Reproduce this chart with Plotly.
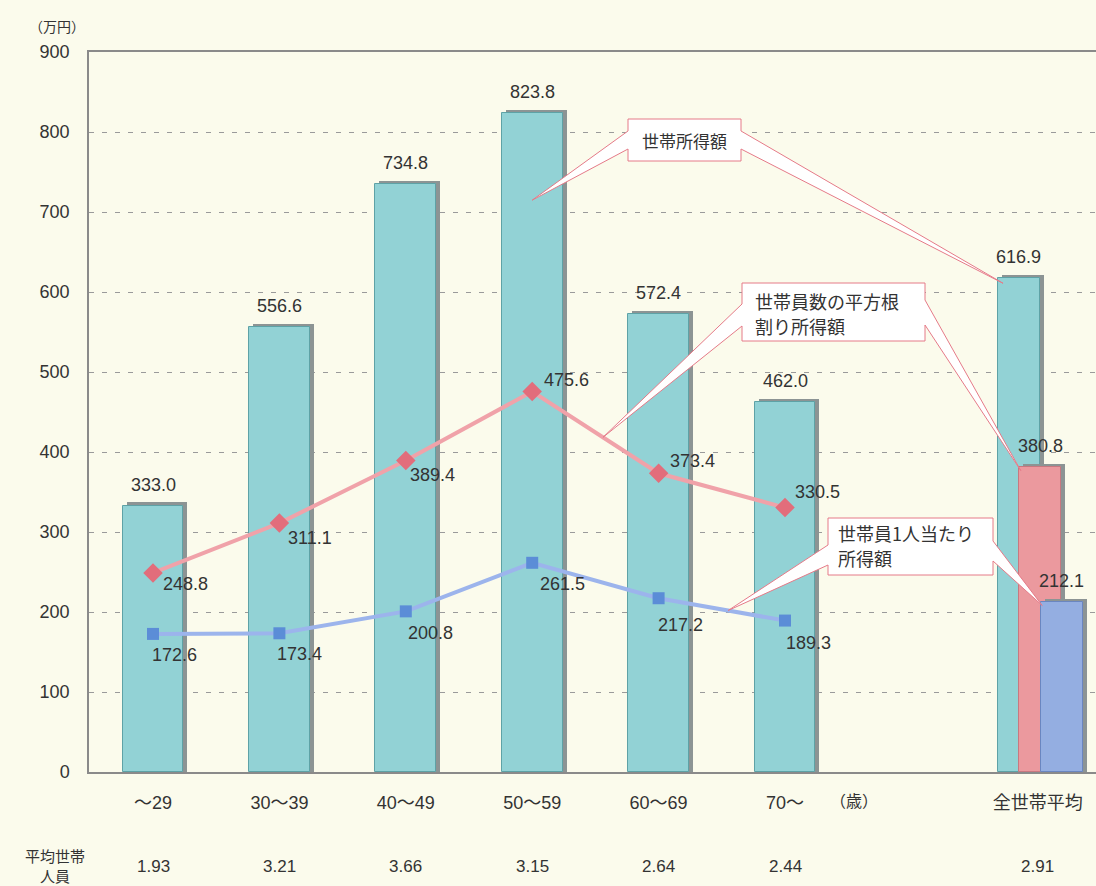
import plotly.graph_objects as go

# ---- data -------------------------------------------------------------
age_groups = ["〜29", "30〜39", "40〜49", "50〜59", "60〜69", "70〜"]
overall_label = "全世帯平均"

household_income = [333.0, 556.6, 734.8, 823.8, 572.4, 462.0]      # 世帯所得額
sqrt_adjusted_income = [248.8, 311.1, 389.4, 475.6, 373.4, 330.5]  # 世帯員数の平方根割り所得額
per_capita_income = [172.6, 173.4, 200.8, 261.5, 217.2, 189.3]     # 世帯員1人当たり所得額
household_size = [1.93, 3.21, 3.66, 3.15, 2.64, 2.44]              # 平均世帯人員

overall_income = 616.9
overall_sqrt_income = 380.8
overall_per_capita = 212.1
overall_size = 2.91

y_ticks = [0, 100, 200, 300, 400, 500, 600, 700, 800, 900]

# ---- layout constants -------------------------------------------------
W, H = 1096, 886
M_L, M_R, M_T, M_B = 89, 0, 52, 114
PLOT_W, PLOT_H = W - M_L - M_R, H - M_T - M_B
X0_PX, UNIT_PX = 153, 126.4            # pixel centre of first group, px per group
Y_MAX = 900
PX_PER_Y = PLOT_H / Y_MAX              # pixels per 万円

x_min = -(X0_PX - M_L) / UNIT_PX
x_max = (W - M_R - X0_PX) / UNIT_PX

group_x = list(range(len(age_groups)))
overall_x = 7.0
ov_teal_x, ov_pink_x, ov_blue_x = 6.85, 7.02, 7.19
bar_w = 0.48
ov_bar_w = 0.33

shadow_dx = 4 / UNIT_PX
shadow_dy = 4.0

BG = "#fbfbec"
TEAL = "#92d2d5"
TEAL_EDGE = "#5ea2a6"
PINK_BAR = "#eb999e"
PINK_EDGE = "#c77880"
BLUE_BAR = "#94aee1"
BLUE_EDGE = "#6a86c0"
SHADOW = "#8c9494"
PINK_LINE = "#f0a2a9"
PINK_MARK = "#e26d7b"
BLUE_LINE = "#9cb4ec"
BLUE_MARK = "#5b8dd7"
CALLOUT = "#e57a88"
TXT = "#333333"
FONT = "Liberation Sans, Arial, Noto Sans CJK JP, sans-serif"
JFONT = "Noto Sans CJK JP, sans-serif"


def px_x(px):
    return (px - X0_PX) / UNIT_PX


def px_y(py):
    return (H - M_B - py) / PX_PER_Y


def paper_x(px):
    return (px - M_L) / PLOT_W


def paper_y(py):
    return (H - M_B - py) / PLOT_H


fig = go.Figure()


# shadow + bar pairs
def add_bar(xs, ys, width, color, edge):
    fig.add_trace(go.Bar(
        x=[x + shadow_dx for x in xs], y=[y + shadow_dy for y in ys], width=width,
        marker=dict(color=SHADOW, line=dict(width=0)), hoverinfo="skip", showlegend=False))
    fig.add_trace(go.Bar(
        x=xs, y=ys, width=width,
        marker=dict(color=color, line=dict(color=edge, width=1)), showlegend=False))


add_bar(group_x + [ov_teal_x], household_income + [overall_income], [bar_w] * 6 + [ov_bar_w], TEAL, TEAL_EDGE)
add_bar([ov_pink_x], [overall_sqrt_income], ov_bar_w, PINK_BAR, PINK_EDGE)
add_bar([ov_blue_x], [overall_per_capita], ov_bar_w, BLUE_BAR, BLUE_EDGE)

fig.add_trace(go.Scatter(
    x=group_x, y=sqrt_adjusted_income, mode="lines+markers",
    line=dict(color=PINK_LINE, width=4),
    marker=dict(symbol="diamond", size=15, color=PINK_MARK), showlegend=False))
fig.add_trace(go.Scatter(
    x=group_x, y=per_capita_income, mode="lines+markers",
    line=dict(color=BLUE_LINE, width=4),
    marker=dict(symbol="square", size=12, color=BLUE_MARK), showlegend=False))

annotations = []


def label(text, x, y, size, family=FONT, xref="x", yref="y", xanchor="center", **kw):
    annotations.append(dict(text=text, x=x, y=y, xref=xref, yref=yref, showarrow=False,
                            xanchor=xanchor, yanchor=kw.pop("yanchor", "middle"),
                            font=dict(size=size, color=TXT, family=family), **kw))


# bar value labels
for x, v in zip(group_x + [ov_teal_x, ov_pink_x, ov_blue_x],
                household_income + [overall_income, overall_sqrt_income, overall_per_capita]):
    label(f"{v:.1f}", x, v, 18, yanchor="bottom", yshift=9)

# line value labels (pixel offsets from each marker)
pink_off = [(32, -11), (31, -15), (27, -15), (34, 12), (34, 12), (32, 16)]
blue_off = [(21, -21), (20, -21), (25, -22), (30, -21), (22, -27), (23, -22)]
for x, v, (ox, oy) in zip(group_x, sqrt_adjusted_income, pink_off):
    label(f"{v:.1f}", x, v, 18, xshift=ox, yshift=oy)
for x, v, (ox, oy) in zip(group_x, per_capita_income, blue_off):
    label(f"{v:.1f}", x, v, 18, xshift=ox, yshift=oy)

# unit labels
label("（万円）", paper_x(57), paper_y(26), 14, JFONT, xref="paper", yref="paper")
label("（歳）", px_x(854), paper_y(800), 16, JFONT, yref="paper")

# household size row
for x, s in zip(group_x + [overall_x], household_size + [overall_size]):
    label(f"{s:.2f}", x, paper_y(866), 17, yref="paper")
label("平均世帯", paper_x(55), paper_y(855), 15, JFONT, xref="paper", yref="paper")
label("人員", paper_x(55), paper_y(875), 15, JFONT, xref="paper", yref="paper")


# callout boxes with wedge pointers
def callout(box, left_base, left_tip, right_base, right_tip):
    x0, y0, x1, y1 = box
    pts = [(px_x(x0), px_y(y0)), (px_x(x1), px_y(y0)),
           (px_x(x1), px_y(right_base[0])), right_tip, (px_x(x1), px_y(right_base[1])),
           (px_x(x1), px_y(y1)), (px_x(x0), px_y(y1)),
           (px_x(x0), px_y(left_base[1])), left_tip, (px_x(x0), px_y(left_base[0]))]
    path = "M " + " L ".join(f"{a:.4f},{b:.3f}" for a, b in pts) + " Z"
    return dict(type="path", path=path, xref="x", yref="y", layer="above",
                fillcolor="white", line=dict(color=CALLOUT, width=1))


def on_line(values, i, frac):
    return (i + frac, values[i] + (values[i + 1] - values[i]) * frac)


shapes = [
    callout((628, 119, 741, 161), (131, 149), (3.0, household_income[3] - 109),
            (131, 149), (ov_teal_x - ov_bar_w / 2 + 0.04, overall_income - 6)),
    callout((742, 283, 925, 341), (304, 326), on_line(sqrt_adjusted_income, 3, 0.56),
            (300, 325), (ov_pink_x - ov_bar_w / 2 + 0.01, overall_sqrt_income - 4)),
    callout((828, 518, 993, 575), (545, 565), on_line(per_capita_income, 4, 0.55),
            (541, 561), (ov_blue_x - ov_bar_w / 2 + 0.01, overall_per_capita - 4)),
]

callout_text = [
    ("世帯所得額", 684.5, 140, "center", 17),
    ("世帯員数の平方根", 753, 301, "left", 18),
    ("割り所得額", 753, 326, "left", 18),
    ("世帯員1人当たり", 836, 533, "left", 18),
    ("所得額", 836, 558, "left", 18),
]
for text, px, py, anchor, size in callout_text:
    label(text, px_x(px), px_y(py), size, JFONT, xanchor=anchor)

fig.update_layout(
    width=W, height=H,
    margin=dict(l=M_L, r=M_R, t=M_T, b=M_B),
    paper_bgcolor=BG, plot_bgcolor=BG,
    barmode="overlay", bargap=0,
    showlegend=False,
    annotations=annotations,
    shapes=shapes,
    font=dict(family=FONT, color=TXT),
)
fig.update_xaxes(
    range=[x_min, x_max],
    tickvals=group_x + [overall_x], ticktext=age_groups + [overall_label],
    tickfont=dict(size=18, color=TXT, family=FONT),
    ticks="", ticklabelstandoff=14,
    showgrid=False, zeroline=False,
    showline=True, linecolor="#8a8a8a", linewidth=1.5, mirror=True,
)
fig.update_yaxes(
    range=[0, Y_MAX], tickvals=y_ticks,
    tickfont=dict(size=18, color=TXT, family=FONT),
    ticks="", ticklabelstandoff=14,
    showgrid=True, gridcolor="#9a9a9a", gridwidth=1, griddash="5px,8px",
    zeroline=False,
    showline=True, linecolor="#8a8a8a", linewidth=1.5,
)

fig.write_html("out.html")
